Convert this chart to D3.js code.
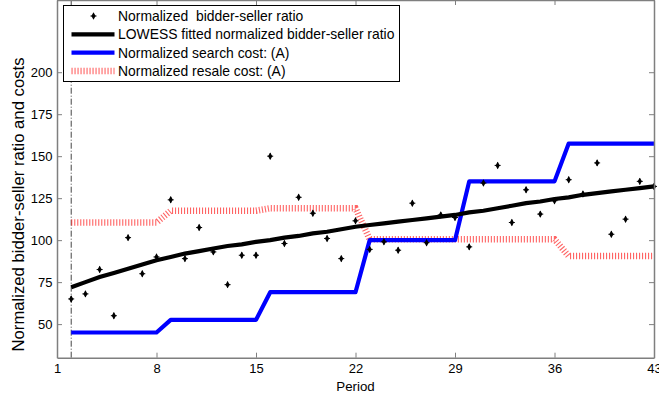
<!DOCTYPE html>
<html>
<head>
<meta charset="utf-8">
<script src="https://cdn.jsdelivr.net/npm/d3@7"></script>
<style>
  body { margin: 0; background: #fff; }
  text { font-family: "Liberation Sans", Arial, sans-serif; }
</style>
</head>
<body>
<div id="chart"></div>
<script>
// periods 2..43
const periods = d3.range(2, 44);

const bidderRatio = [65, 68, 82.5, 55, 101.5, 80, 90, 124, 89, 107.5,
    93, 73.5, 91, 91, 150, 98, 125.5, 116, 101, 89,
    111.5, 94.5, 99, 94, 122, 98.5, 115, 113.5, 96, 134,
    144.5, 110.5, 130, 115.5, 123.5, 136, 127.5, 146, 103.5, 112.5,
    135, 132];

const lowessFit = [72, 75, 78, 80.5, 83, 85.5, 88, 90, 92, 93.5,
    95, 96.5, 97.5, 99, 100, 101.5, 102.5, 104, 105, 106.5,
    108, 109, 110, 111, 112, 113, 114, 115, 116.5, 117.5,
    119, 120.5, 122, 123, 124.5, 125.5, 127, 128, 129, 130,
    131, 132];

const searchCost = [45, 45, 45, 45, 45, 45, 45, 52.5, 52.5, 52.5,
    52.5, 52.5, 52.5, 52.5, 69, 69, 69, 69, 69, 69,
    69, 100, 100, 100, 100, 100, 100, 100, 135, 135,
    135, 135, 135, 135, 135, 157.5, 157.5, 157.5, 157.5, 157.5,
    157.5, 157.5];

const resaleCost = [110.5, 110.5, 110.5, 110.5, 110.5, 110.5, 110.5, 117.5, 117.5, 117.5,
    117.5, 117.5, 117.5, 117.5, 119, 119, 119, 119, 119, 119,
    119, 100.5, 100.5, 100.5, 100.5, 100.5, 100.5, 100.5, 100.5, 100.5,
    100.5, 100.5, 100.5, 100.5, 100.5, 90.5, 90.5, 90.5, 90.5, 90.5,
    90.5, 90.5];

const xTicks = [1, 8, 15, 22, 29, 36, 43];
const yTicks = [50, 75, 100, 125, 150, 175, 200];

const legendLabels = [
    "Normalized  bidder-seller ratio",
    "LOWESS fitted normalized bidder-seller ratio",
    "Normalized search cost: (A)",
    "Normalized resale cost: (A)"
];

const width = 659, height = 400;
const margin = {left: 57, right: 5, top: 0, bottom: 42.3};

const svg = d3.select("#chart").append("svg")
    .attr("width", width)
    .attr("height", height);

const x = d3.scaleLinear().domain([1, 43]).range([margin.left, width - margin.right]);
const y = d3.scaleLinear().domain([30, 243]).range([height - margin.bottom, margin.top]);

const axisColor = "#7f7f7f";

// dash-dot marker at period 2
svg.append("line")
    .attr("x1", x(2)).attr("x2", x(2))
    .attr("y1", y(30)).attr("y2", y(243))
    .attr("stroke", "#444").attr("stroke-width", 1)
    .attr("stroke-dasharray", "6,2,1,2");

const line = d3.line().x((d, i) => x(periods[i])).y(d => y(d));

// resale cost (red dotted thick)
svg.append("path")
    .datum(resaleCost)
    .attr("d", line)
    .attr("fill", "none")
    .attr("stroke", "#ff3030")
    .attr("stroke-opacity", 0.75)
    .attr("stroke-width", 6.5)
    .attr("stroke-dasharray", "1.1,1.9");

// search cost
svg.append("path")
    .datum(searchCost)
    .attr("d", line)
    .attr("fill", "none")
    .attr("stroke", "#0000ff")
    .attr("stroke-width", 4.2)
    .attr("stroke-linejoin", "round");

// LOWESS
svg.append("path")
    .datum(lowessFit)
    .attr("d", line)
    .attr("fill", "none")
    .attr("stroke", "#000")
    .attr("stroke-width", 4.2);

// scatter markers
const diamond = d3.symbol(d3.symbolDiamond, 16);
const pts = svg.append("g").selectAll("g")
    .data(bidderRatio)
    .join("g")
    .attr("transform", (d, i) => `translate(${x(periods[i])},${y(d)})`);
pts.append("path").attr("d", diamond).attr("fill", "#000");
pts.append("path").attr("d", "M-3,0H3M0,-3V3").attr("stroke", "#000").attr("stroke-width", 1);

// axes box with inside ticks
const gx = svg.append("g")
    .attr("transform", `translate(0,${y(30)})`)
    .call(d3.axisBottom(x).tickValues(xTicks).tickSizeInner(-5).tickSizeOuter(0).tickPadding(6.5));
const gxTop = svg.append("g")
    .attr("transform", `translate(0,${y(243)})`)
    .call(d3.axisTop(x).tickValues(xTicks).tickSizeInner(-5).tickSizeOuter(0).tickFormat(""));
const gy = svg.append("g")
    .attr("transform", `translate(${x(1)},0)`)
    .call(d3.axisLeft(y).tickValues(yTicks).tickSizeInner(-5).tickSizeOuter(0).tickPadding(4.5));
const gyRight = svg.append("g")
    .attr("transform", `translate(${x(43)},0)`)
    .call(d3.axisRight(y).tickValues(yTicks).tickSizeInner(-5).tickSizeOuter(0).tickFormat(""));

[gx, gxTop, gy, gyRight].forEach(g => {
    g.selectAll(".domain").attr("stroke", axisColor).attr("stroke-width", 1.5);
    g.selectAll(".tick line").attr("stroke", axisColor);
    g.selectAll(".tick text").attr("fill", "#000").style("font-size", "13px")
        .style("font-family", "'Liberation Sans', Arial, sans-serif");
});

svg.append("text")
    .attr("x", (x(1) + x(43)) / 2)
    .attr("y", 391)
    .attr("text-anchor", "middle")
    .style("font-size", "13.3px")
    .text("Period");

svg.append("text")
    .attr("transform", "translate(23.5,204.5) rotate(-90)")
    .attr("text-anchor", "middle")
    .style("font-size", "16.7px")
    .text("Normalized bidder-seller ratio and costs");

// legend
const lg = svg.append("g").attr("transform", "translate(63.5,5.5)");
lg.append("rect")
    .attr("width", 336).attr("height", 76)
    .attr("fill", "#fff").attr("stroke", "#000").attr("stroke-width", 1);

const rowY = d3.scalePoint().domain(d3.range(legendLabels.length)).range([10.5, 65.5]);

const rows = lg.selectAll("g.row")
    .data(legendLabels)
    .join("g")
    .attr("class", "row")
    .attr("transform", (d, i) => `translate(0,${rowY(i)})`);

rows.append("text")
    .attr("x", 54.5)
    .attr("dy", "0.35em")
    .style("font-size", "13.9px")
    .style("white-space", "pre")
    .text(d => d);

const sample = rows.filter((d, i) => i > 0).append("line")
    .attr("x1", 8).attr("x2", 51);
sample.filter((d, i) => i === 0).attr("stroke", "#000").attr("stroke-width", 4.2);
sample.filter((d, i) => i === 1).attr("stroke", "#0000ff").attr("stroke-width", 4.2);
sample.filter((d, i) => i === 2).attr("stroke", "#ff3030").attr("stroke-opacity", 0.75)
    .attr("stroke-width", 6.5).attr("stroke-dasharray", "1.1,1.9");

const lm = rows.filter((d, i) => i === 0).append("g").attr("transform", "translate(30,0)");
lm.append("path").attr("d", diamond).attr("fill", "#000");
lm.append("path").attr("d", "M-3,0H3M0,-3V3").attr("stroke", "#000").attr("stroke-width", 1);
</script>
</body>
</html>
